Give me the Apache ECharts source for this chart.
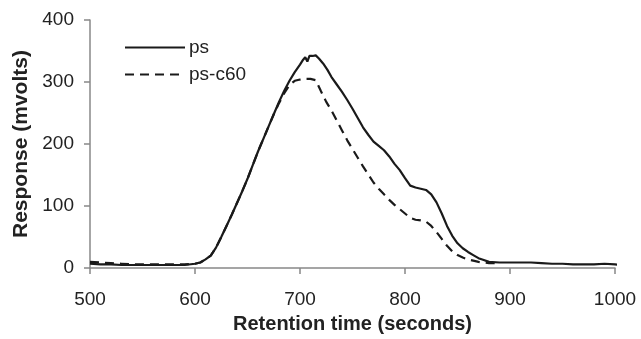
<!DOCTYPE html>
<html><head><meta charset="utf-8">
<script src="https://cdn.jsdelivr.net/npm/echarts@6/dist/echarts.min.js"></script>
<style>html,body{margin:0;padding:0;background:#fff}#c{width:641px;height:339px}</style>
</head><body><div id="c"></div>
<script>
const xTicks = [500, 600, 700, 800, 900, 1000];
const yTicks = [0, 100, 200, 300, 400];
const psTime = [500,510,520,530,540,550,560,570,580,590,600,605,610,615,620,625,630,635,640,645,650,655,660,665,670,675,680,685,690,695,700,703,705,707,709,712,715,718,722,726,730,735,740,745,750,755,760,765,770,775,780,785,790,795,800,805,810,815,820,825,830,835,840,845,850,855,860,865,870,875,880,890,900,910,920,930,940,950,960,970,980,990,1000,1007];
const psVal = [7,6,6,5,5,5,5,5,5,5,7,9,14,20,33,50,68,86,105,124,144,166,188,208,228,248,268,286,302,316,328,336,340,333,342,342,343,338,330,320,308,296,284,271,257,242,227,215,204,197,190,180,168,158,145,133,130,128,126,119,106,88,68,52,40,32,26,21,16,13,10,9,9,9,9,8,7,7,6,6,6,7,6,5];
const c60Time = [500,510,520,530,540,550,560,570,580,590,600,605,610,615,620,625,630,635,640,645,650,655,660,665,670,675,680,685,690,695,700,705,710,715,720,725,730,735,740,745,750,755,760,765,770,775,780,785,790,795,800,805,810,815,820,825,830,835,840,845,850,855,860,865,870,875,880,890];
const c60Val = [10,9,8,7,6,6,6,6,6,6,7,9,14,20,33,50,68,86,105,124,144,166,188,208,228,248,266,282,295,302,304,305,305,303,285,268,254,238,222,206,192,178,164,151,138,128,119,110,102,95,88,81,78,77,75,68,58,47,36,27,21,17,14,12,10,9,8,8];

const pair = (t, v) => t.map((x, i) => [x, v[i]]);
const font = 'Liberation Sans, Arial, sans-serif';
const chart = echarts.init(document.getElementById('c'), null, {renderer: 'canvas'});
chart.setOption({
  animation: false,
  backgroundColor: '#fff',
  grid: {left: 90, right: 26, top: 20, bottom: 70},
  legend: {
    orient: 'vertical', left: 119, top: 33, itemWidth: 60, itemHeight: 14, itemGap: 8,
    itemStyle: {opacity: 0},
    textStyle: {fontFamily: font, fontSize: 19, color: '#222', padding: [0,0,0,-1]},
    data: ['ps', 'ps-c60']
  },
  xAxis: {
    type: 'value', min: 500, max: 1000, interval: 100,
    name: 'Retention time (seconds)', nameLocation: 'middle', nameGap: 41,
    nameTextStyle: {fontFamily: font, fontSize: 20, fontWeight: 'bold', color: '#222'},
    axisLine: {show: true, lineStyle: {color: '#888', width: 1.5}},
    axisTick: {show: true, length: 6, lineStyle: {color: '#888', width: 1.5}},
    axisLabel: {fontFamily: font, fontSize: 19, color: '#222', margin: 22,
                formatter: v => xTicks.includes(v) ? String(v) : ''},
    splitLine: {show: false}
  },
  yAxis: {
    type: 'value', min: 0, max: 400, interval: 100,
    name: 'Response (mvolts)', nameLocation: 'middle', nameGap: 58, nameRotate: 90,
    nameTextStyle: {fontFamily: font, fontSize: 21, fontWeight: 'bold', color: '#222'},
    axisLine: {show: true, lineStyle: {color: '#888', width: 1.5}},
    axisTick: {show: true, length: 6, lineStyle: {color: '#888', width: 1.5}},
    axisLabel: {fontFamily: font, fontSize: 19, color: '#222', margin: 16,
                formatter: v => yTicks.includes(v) ? String(v) : ''},
    splitLine: {show: false}
  },
  series: [
    {name: 'ps-c60', type: 'line', data: pair(c60Time, c60Val), showSymbol: false, symbol: 'none', clip: false,
     lineStyle: {color: '#1a1a1a', width: 2.2, type: [9, 6]}, itemStyle: {color: '#1a1a1a'}},
    {name: 'ps', type: 'line', data: pair(psTime, psVal), showSymbol: false, symbol: 'none', clip: false,
     lineStyle: {color: '#1a1a1a', width: 2.2}, itemStyle: {color: '#1a1a1a'}}
  ]
});
</script></body></html>
